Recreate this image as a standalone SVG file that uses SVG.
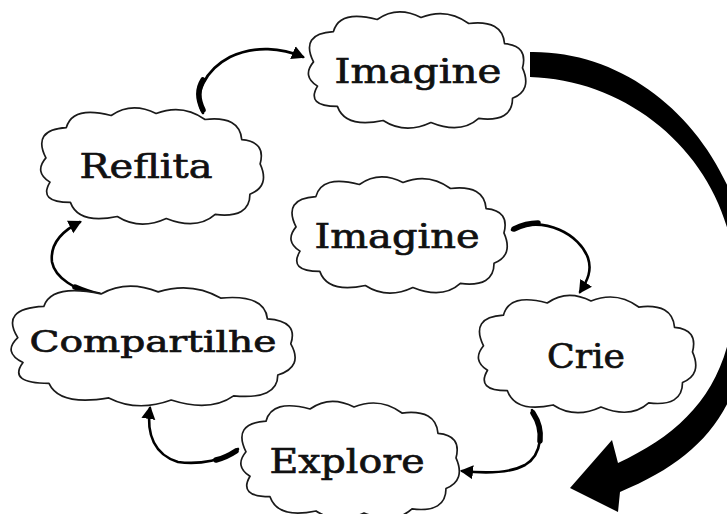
<svg xmlns="http://www.w3.org/2000/svg" xmlns:xlink="http://www.w3.org/1999/xlink" width="727" height="514" viewBox="0 0 727 514">
<style>
.cloud{fill:#fff;stroke:#1a1a1a;stroke-width:1.7;vector-effect:non-scaling-stroke;stroke-linejoin:round}
.lbl{font-family:"DejaVu Serif","Liberation Serif",serif;font-size:34px;fill:#111;stroke:#111;stroke-width:0.7;text-anchor:middle}
.con{fill:none;stroke:#000;stroke-width:2.6;stroke-linecap:round}
.thick{fill:none;stroke:#000;stroke-width:5.5;stroke-linecap:round}
</style>
<defs>
<path id="cloud" class="cloud" d="M -104,-10 Q -118,-38 -84,-40 Q -78,-62 -40,-52 Q -20,-66 4,-54 Q 30,-64 52,-48 Q 86,-52 88,-28 Q 112,-26 106,-4 Q 116,18 96,26 Q 96,50 62,46 Q 44,62 14,50 Q -12,62 -34,48 Q -72,56 -80,34 Q -112,34 -100,14 Q -116,4 -104,-10 Z"/>
<marker id="ah" markerUnits="userSpaceOnUse" markerWidth="16" markerHeight="16" refX="11" refY="7" orient="auto" viewBox="0 0 16 14">
<path d="M0,0 L13,7 L0,14 z" fill="#000"/>
</marker>
</defs>
<rect width="727" height="514" fill="#fff"/>
<g id="connectors">
<path d="M 530,52 C 650,50 750,160 750,290 C 750,400 710,455 620,492 L 618,512 L 570,488 L 612,440 L 618,463 C 690,430 735,380 735,283 C 735,170 640,80 530,77 Z" fill="#000"/>
<path class="con" d="M 203,113 C 193,95 205,70 230,57 C 255,45 282,48 303,57" marker-end="url(#ah)"/>
<path class="thick" d="M 203,110 C 197,98 198,88 203,80"/>
<path class="con" d="M 100,296 C 75,290 55,278 52,262 C 50,245 60,232 80,222" marker-end="url(#ah)"/>
<path class="thick" d="M 99,295 C 90,293 82,290 75,287"/>
<path class="con" d="M 238,449 C 225,460 200,465 178,462 C 155,455 146,435 150,408" marker-end="url(#ah)"/>
<path class="thick" d="M 236,451 C 230,455 224,458 216,460"/>
<path class="con" d="M 532,410 C 545,430 542,455 525,465 C 510,473 490,474 462,471" marker-end="url(#ah)"/>
<path class="thick" d="M 533,413 C 539,422 541,432 540,441"/>
<path class="con" d="M 512,230 C 545,215 580,235 588,258 C 592,270 588,280 580,292" marker-end="url(#ah)"/>
<path class="thick" d="M 514,229 C 522,225 530,223 538,223"/>
</g>
<g id="imagine-top">
<use xlink:href="#cloud" transform="translate(417,72) scale(0.995,1.01)"/>
<text class="lbl" x="418" y="83" textLength="167" lengthAdjust="spacingAndGlyphs">Imagine</text>
</g>
<g id="reflita">
<use xlink:href="#cloud" transform="translate(152,168) scale(1.02,1.01)"/>
<text class="lbl" x="146" y="178" textLength="133" lengthAdjust="spacingAndGlyphs">Reflita</text>
</g>
<g id="compartilhe">
<use xlink:href="#cloud" transform="translate(153,348) scale(1.3,1.04)"/>
<text class="lbl" x="153" y="352" style="font-size:30px" textLength="247" lengthAdjust="spacingAndGlyphs">Compartilhe</text>
</g>
<g id="imagine-mid">
<use xlink:href="#cloud" transform="translate(399,237) scale(0.99,1.01)"/>
<text class="lbl" x="397" y="248" textLength="165" lengthAdjust="spacingAndGlyphs">Imagine</text>
</g>
<g id="crie">
<use xlink:href="#cloud" transform="translate(587,356) scale(0.995,1.02)"/>
<text class="lbl" x="586" y="368" textLength="78" lengthAdjust="spacingAndGlyphs">Crie</text>
</g>
<g id="explore">
<use xlink:href="#cloud" transform="translate(350,462) scale(1,1.02)"/>
<text class="lbl" x="347" y="473" textLength="155" lengthAdjust="spacingAndGlyphs">Explore</text>
</g>
</svg>
